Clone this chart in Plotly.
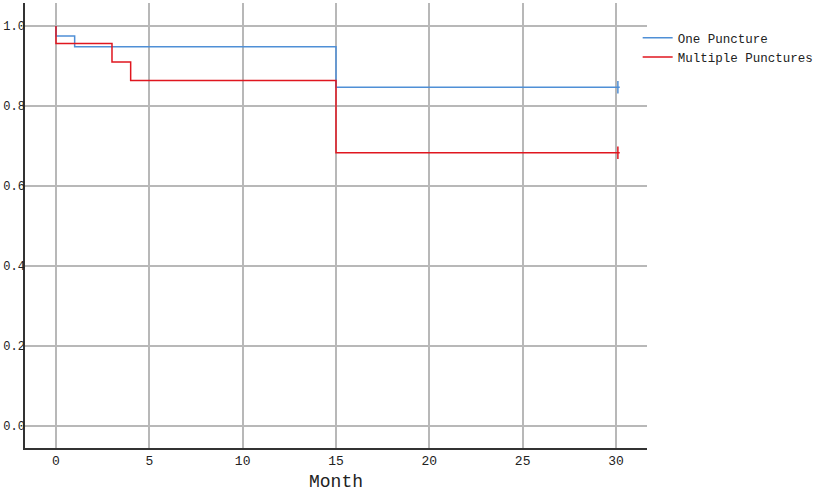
import plotly.graph_objects as go

# Kaplan-Meier style step data
one_month = [0, 0, 1, 15, 30.2]
one_surv = [1.0, 0.975, 0.948, 0.847, 0.847]
multi_month = [0, 0, 3, 4, 15, 30.2]
multi_surv = [1.0, 0.956, 0.91, 0.864, 0.683, 0.683]
censor_month = [30.1]
one_censor = [0.847]
multi_censor = [0.683]

x_ticks = [0, 5, 10, 15, 20, 25, 30]
y_ticks = [0.0, 0.2, 0.4, 0.6, 0.8, 1.0]

blue = '#4f8fd6'
red = '#e0161f'
font = 'Liberation Mono'


def main():
    fig = go.Figure()
    fig.add_trace(go.Scatter(x=one_month, y=one_surv, mode='lines', line_shape='hv',
                             line=dict(color=blue, width=1.5), name='One Puncture'))
    fig.add_trace(go.Scatter(x=multi_month, y=multi_surv, mode='lines', line_shape='hv',
                             line=dict(color=red, width=1.5), name='Multiple Punctures'))
    # censor marks
    fig.add_trace(go.Scatter(x=censor_month, y=one_censor, mode='markers', showlegend=False,
                             marker=dict(symbol='line-ns', size=9, line=dict(color=blue, width=1.5))))
    fig.add_trace(go.Scatter(x=censor_month, y=multi_censor, mode='markers', showlegend=False,
                             marker=dict(symbol='line-ns', size=9, line=dict(color=red, width=1.5))))

    fig.update_layout(
        width=829, height=493,
        margin=dict(l=25, r=182, t=3, b=45),
        plot_bgcolor='white', paper_bgcolor='white',
        font=dict(family=font, size=13, color='#222'),
        showlegend=True,
        legend=dict(x=0.985, y=0.955, xanchor='left', yanchor='top',
                    font=dict(family=font, size=12.5, color='#222'),
                    itemwidth=30, tracegroupgap=0, bgcolor='rgba(0,0,0,0)'),
        xaxis=dict(range=[-1.66, 31.66], tickvals=x_ticks, showgrid=True, automargin=False,
                   gridcolor='#b8b8b8', gridwidth=1.5, zeroline=False,
                   showline=True, linecolor='#333', linewidth=1.5, ticks=''),
        yaxis=dict(range=[-0.055, 1.0575], tickvals=y_ticks, tickformat='.1f', automargin=False,
                   showgrid=True, gridcolor='#b8b8b8', gridwidth=1.5, zeroline=False,
                   showline=True, linecolor='#333', linewidth=1.5, ticks='',
                   tickfont=dict(size=12), ticklabelstandoff=-4),
        annotations=[dict(text='Month', xref='paper', yref='paper', x=0.5, y=-0.05,
                          xanchor='center', yanchor='top', showarrow=False,
                          font=dict(family=font, size=18, color='#222'))],
    )
    # drop the default 8px body margin so the figure sits at the window's corner
    fig.write_html('out.html', config={'displayModeBar': False},
                   post_script="document.body.style.margin='0';")


if __name__ == '__main__':
    main()
